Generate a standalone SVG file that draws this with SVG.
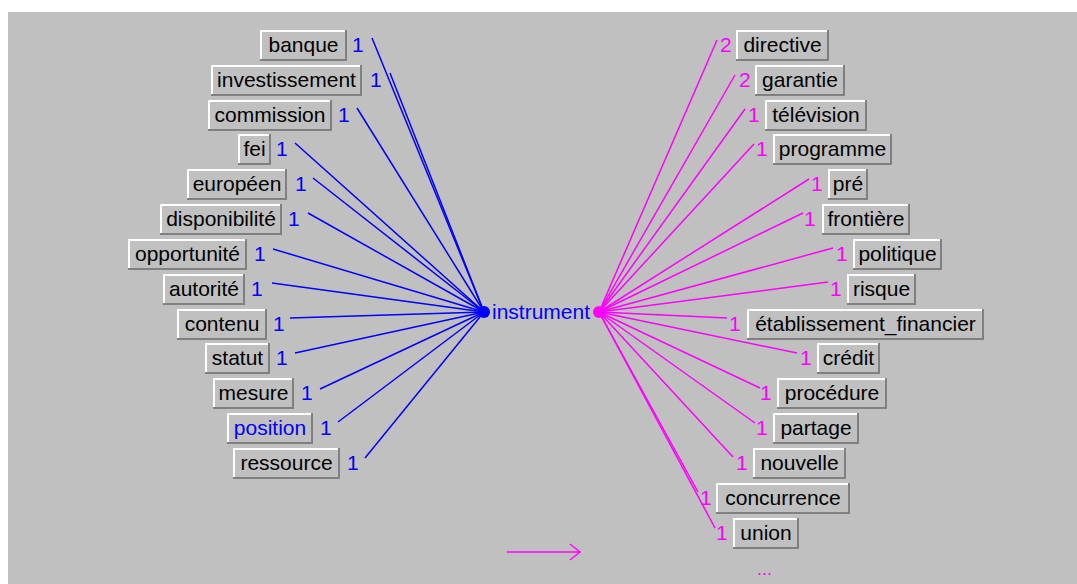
<svg xmlns="http://www.w3.org/2000/svg" width="1077" height="584" viewBox="0 0 1077 584">
<style>
text{font-family:"Liberation Sans",Arial,sans-serif;font-size:21px}
.lbl{fill:#000;text-anchor:middle}
.bl{fill:#0000ff}
.mg{fill:#ff00ff}
.sh{fill:#808080}
.hl{fill:#ffffff}
.fc{fill:#c0c0c0}
.cb{stroke:#0000ff;stroke-width:1.5;fill:none}
.cm{stroke:#ff00ff;stroke-width:1.5;fill:none}
</style>
<rect x="0" y="0" width="1077" height="584" fill="#ffffff"/>
<rect x="8" y="12" width="1069" height="572" fill="#c0c0c0"/>
<g id="connectors">
<g class="cb">
<line x1="372" y1="38" x2="484" y2="312"/>
<line x1="390" y1="73" x2="484" y2="312"/>
<line x1="357" y1="108" x2="484" y2="312"/>
<line x1="295" y1="143" x2="484" y2="312"/>
<line x1="313" y1="178" x2="484" y2="312"/>
<line x1="308" y1="213" x2="484" y2="312"/>
<line x1="273" y1="249" x2="484" y2="312"/>
<line x1="272" y1="283" x2="484" y2="312"/>
<line x1="290" y1="318" x2="484" y2="312"/>
<line x1="295" y1="353" x2="484" y2="312"/>
<line x1="320" y1="389" x2="484" y2="312"/>
<line x1="338" y1="422" x2="484" y2="312"/>
<line x1="365" y1="458" x2="484" y2="312"/>
</g>
<g class="cm">
<line x1="599" y1="312" x2="717" y2="40"/>
<line x1="599" y1="312" x2="735" y2="75"/>
<line x1="599" y1="312" x2="745" y2="109"/>
<line x1="599" y1="312" x2="754" y2="144"/>
<line x1="599" y1="312" x2="809" y2="179"/>
<line x1="599" y1="312" x2="803" y2="213"/>
<line x1="599" y1="312" x2="833" y2="248"/>
<line x1="599" y1="312" x2="828" y2="282"/>
<line x1="599" y1="312" x2="727" y2="318"/>
<line x1="599" y1="312" x2="797" y2="353"/>
<line x1="599" y1="312" x2="760" y2="388"/>
<line x1="599" y1="312" x2="755" y2="423"/>
<line x1="599" y1="312" x2="733" y2="457"/>
<line x1="599" y1="312" x2="698" y2="492"/>
<line x1="599" y1="312" x2="715" y2="528"/>
</g>
<g id="legend-arrow" class="cm">
<line x1="507" y1="552" x2="580" y2="552"/>
<polyline points="570,544 580,552 570,560"/>
</g>
</g>
<g id="hub">
<circle cx="484" cy="312" r="6" fill="#0000ff"/>
<circle cx="599" cy="312" r="6" fill="#ff00ff"/>
<text x="492" y="319" class="bl">instrument</text>
</g>
<!-- left nodes -->
<g id="n-banque" transform="translate(260,30)"><rect class="sh" width="87" height="31"/><rect class="hl" width="85" height="29"/><rect class="fc" x="2" y="2" width="83" height="27"/><text class="lbl" x="43.5" y="22">banque</text><text class="bl" x="92" y="22">1</text></g>
<g id="n-investissement" transform="translate(211,65)"><rect class="sh" width="151" height="31"/><rect class="hl" width="149" height="29"/><rect class="fc" x="2" y="2" width="147" height="27"/><text class="lbl" x="75.5" y="22">investissement</text><text class="bl" x="159" y="22">1</text></g>
<g id="n-commission" transform="translate(208,100)"><rect class="sh" width="124" height="31"/><rect class="hl" width="122" height="29"/><rect class="fc" x="2" y="2" width="120" height="27"/><text class="lbl" x="62" y="22">commission</text><text class="bl" x="130" y="22">1</text></g>
<g id="n-fei" transform="translate(238,134)"><rect class="sh" width="33" height="31"/><rect class="hl" width="31" height="29"/><rect class="fc" x="2" y="2" width="29" height="27"/><text class="lbl" x="16.5" y="22">fei</text><text class="bl" x="38" y="22">1</text></g>
<g id="n-europeen" transform="translate(187,169)"><rect class="sh" width="100" height="31"/><rect class="hl" width="98" height="29"/><rect class="fc" x="2" y="2" width="96" height="27"/><text class="lbl" x="50" y="22">européen</text><text class="bl" x="108" y="22">1</text></g>
<g id="n-disponibilite" transform="translate(160,204)"><rect class="sh" width="122" height="31"/><rect class="hl" width="120" height="29"/><rect class="fc" x="2" y="2" width="118" height="27"/><text class="lbl" x="61" y="22">disponibilité</text><text class="bl" x="128" y="22">1</text></g>
<g id="n-opportunite" transform="translate(128,239)"><rect class="sh" width="119" height="31"/><rect class="hl" width="117" height="29"/><rect class="fc" x="2" y="2" width="115" height="27"/><text class="lbl" x="59.5" y="22">opportunité</text><text class="bl" x="126" y="22">1</text></g>
<g id="n-autorite" transform="translate(163,274)"><rect class="sh" width="82" height="31"/><rect class="hl" width="80" height="29"/><rect class="fc" x="2" y="2" width="78" height="27"/><text class="lbl" x="41" y="22">autorité</text><text class="bl" x="88" y="22">1</text></g>
<g id="n-contenu" transform="translate(177,309)"><rect class="sh" width="90" height="31"/><rect class="hl" width="88" height="29"/><rect class="fc" x="2" y="2" width="86" height="27"/><text class="lbl" x="45" y="22">contenu</text><text class="bl" x="96" y="22">1</text></g>
<g id="n-statut" transform="translate(205,343)"><rect class="sh" width="65" height="31"/><rect class="hl" width="63" height="29"/><rect class="fc" x="2" y="2" width="61" height="27"/><text class="lbl" x="32.5" y="22">statut</text><text class="bl" x="71" y="22">1</text></g>
<g id="n-mesure" transform="translate(213,378)"><rect class="sh" width="81" height="31"/><rect class="hl" width="79" height="29"/><rect class="fc" x="2" y="2" width="77" height="27"/><text class="lbl" x="40.5" y="22">mesure</text><text class="bl" x="88" y="22">1</text></g>
<g id="n-position" transform="translate(227,413)"><rect class="sh" width="86" height="31"/><rect class="hl" width="84" height="29"/><rect class="fc" x="2" y="2" width="82" height="27"/><text class="lbl bl" x="43" y="22">position</text><text class="bl" x="93" y="22">1</text></g>
<g id="n-ressource" transform="translate(233,448)"><rect class="sh" width="107" height="31"/><rect class="hl" width="105" height="29"/><rect class="fc" x="2" y="2" width="103" height="27"/><text class="lbl" x="53.5" y="22">ressource</text><text class="bl" x="114" y="22">1</text></g>
<!-- right nodes -->
<g id="n-directive" transform="translate(736,30)"><text class="mg" x="-16" y="22">2</text><rect class="sh" width="93" height="31"/><rect class="hl" width="91" height="29"/><rect class="fc" x="2" y="2" width="89" height="27"/><text class="lbl" x="46.5" y="22">directive</text></g>
<g id="n-garantie" transform="translate(755,65)"><text class="mg" x="-16" y="22">2</text><rect class="sh" width="90" height="31"/><rect class="hl" width="88" height="29"/><rect class="fc" x="2" y="2" width="86" height="27"/><text class="lbl" x="45" y="22">garantie</text></g>
<g id="n-television" transform="translate(765,100)"><text class="mg" x="-17" y="22">1</text><rect class="sh" width="102" height="31"/><rect class="hl" width="100" height="29"/><rect class="fc" x="2" y="2" width="98" height="27"/><text class="lbl" x="51" y="22">télévision</text></g>
<g id="n-programme" transform="translate(773,134)"><text class="mg" x="-17" y="22">1</text><rect class="sh" width="119" height="31"/><rect class="hl" width="117" height="29"/><rect class="fc" x="2" y="2" width="115" height="27"/><text class="lbl" x="59.5" y="22">programme</text></g>
<g id="n-pre" transform="translate(828,169)"><text class="mg" x="-17" y="22">1</text><rect class="sh" width="40" height="31"/><rect class="hl" width="38" height="29"/><rect class="fc" x="2" y="2" width="36" height="27"/><text class="lbl" x="20" y="22">pré</text></g>
<g id="n-frontiere" transform="translate(822,204)"><text class="mg" x="-18" y="22">1</text><rect class="sh" width="88" height="31"/><rect class="hl" width="86" height="29"/><rect class="fc" x="2" y="2" width="84" height="27"/><text class="lbl" x="44" y="22">frontière</text></g>
<g id="n-politique" transform="translate(853,239)"><text class="mg" x="-17" y="22">1</text><rect class="sh" width="89" height="31"/><rect class="hl" width="87" height="29"/><rect class="fc" x="2" y="2" width="85" height="27"/><text class="lbl" x="44.5" y="22">politique</text></g>
<g id="n-risque" transform="translate(847,274)"><text class="mg" x="-17" y="22">1</text><rect class="sh" width="69" height="31"/><rect class="hl" width="67" height="29"/><rect class="fc" x="2" y="2" width="65" height="27"/><text class="lbl" x="34.5" y="22">risque</text></g>
<g id="n-etablissement_financier" transform="translate(747,309)"><text class="mg" x="-18" y="22">1</text><rect class="sh" width="237" height="31"/><rect class="hl" width="235" height="29"/><rect class="fc" x="2" y="2" width="233" height="27"/><text class="lbl" x="118.5" y="22">établissement_financier</text></g>
<g id="n-credit" transform="translate(817,343)"><text class="mg" x="-17" y="22">1</text><rect class="sh" width="63" height="31"/><rect class="hl" width="61" height="29"/><rect class="fc" x="2" y="2" width="59" height="27"/><text class="lbl" x="31.5" y="22">crédit</text></g>
<g id="n-procedure" transform="translate(777,378)"><text class="mg" x="-17" y="22">1</text><rect class="sh" width="110" height="31"/><rect class="hl" width="108" height="29"/><rect class="fc" x="2" y="2" width="106" height="27"/><text class="lbl" x="55" y="22">procédure</text></g>
<g id="n-partage" transform="translate(773,413)"><text class="mg" x="-17" y="22">1</text><rect class="sh" width="86" height="31"/><rect class="hl" width="84" height="29"/><rect class="fc" x="2" y="2" width="82" height="27"/><text class="lbl" x="43" y="22">partage</text></g>
<g id="n-nouvelle" transform="translate(753,448)"><text class="mg" x="-17" y="22">1</text><rect class="sh" width="93" height="31"/><rect class="hl" width="91" height="29"/><rect class="fc" x="2" y="2" width="89" height="27"/><text class="lbl" x="46.5" y="22">nouvelle</text></g>
<g id="n-concurrence" transform="translate(716,483)"><text class="mg" x="-16" y="22">1</text><rect class="sh" width="134" height="31"/><rect class="hl" width="132" height="29"/><rect class="fc" x="2" y="2" width="130" height="27"/><text class="lbl" x="67" y="22">concurrence</text></g>
<g id="n-union" transform="translate(733,518)"><text class="mg" x="-17" y="22">1</text><rect class="sh" width="66" height="31"/><rect class="hl" width="64" height="29"/><rect class="fc" x="2" y="2" width="62" height="27"/><text class="lbl" x="33" y="22">union</text></g>
<text id="more" class="mg" x="757" y="575" style="font-size:18px">...</text>
</svg>
